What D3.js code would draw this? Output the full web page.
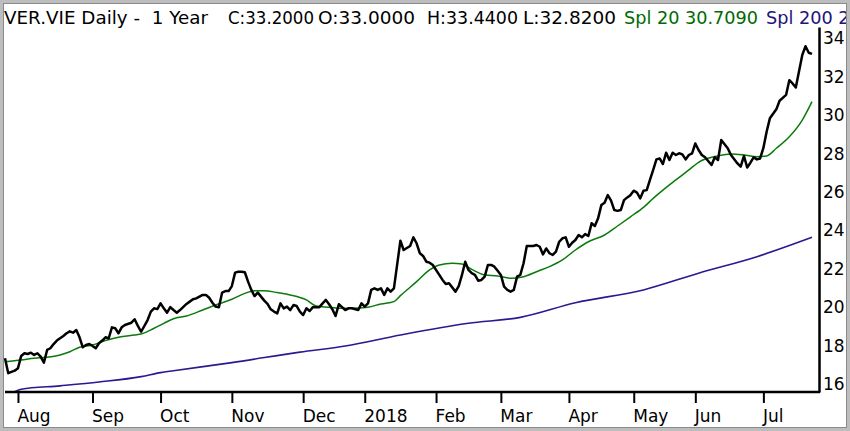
<!DOCTYPE html>
<html>
<head>
<meta charset="utf-8">
<script src="https://cdn.jsdelivr.net/npm/d3@7"></script>
<style>
  html, body { margin: 0; padding: 0; background: #fff; }
  svg { display: block; font-family: "DejaVu Sans", Verdana, sans-serif; }
</style>
</head>
<body>
<svg id="chart" width="850" height="431"></svg>
<script>
// trading day index (0 = first day shown) and close price
var closeDay = [0,1,3,4,5,6,7,8,9,10,11,12,13,14,15,16,17,18,19,20,21,22,23,24,25,26,27,28,29,30,
  31,32,33,34,35,36,37,39,40,41,42,44,45,46,47,48,49,50,51,52,53,54,56,57,58,59,61,62,63,64,
  65,66,67,68,69,70,71,72,73,74,75,76,77,78,79,80,81,82,83,84,85,86,87,88,89,90,91,92,93,94,
  95,97,98,99,100,101,102,103,104,105,106,107,109,110,111,112,113,114,115,116,117,118,119,120,
  122,123,125,126,127,128,129,130,131,132,134,135,136,137,139,140,141,142,143,144,145,146,147,148,
  149,150,151,152,153,154,155,156,157,158,159,160,161,163,164,165,166,167,168,169,170,171,172,173,
  174,175,176,177,178,179,180,181,182,183,184,185,186,187,188,189,190,191,192,193,194,195,196,197,
  198,199,200,201,202,203,204,205,206,207,208,209,210,211,212,213,214,215,216,218,219,220,221,223,
  224,226,227,228,229,230,231,232,233,234,235,236,238,239,241,242,243,244,246,247,248,249];
var closeVal = [17.34,16.56,16.69,16.82,17.46,17.60,17.56,17.63,17.51,17.60,17.42,17.11,17.77,17.86,18.08,18.26,18.38,18.50,18.64,18.74,18.67,18.81,18.43,17.91,18.03,18.08,17.98,17.86,18.12,18.26,
  18.43,18.38,18.95,18.90,18.64,18.95,19.07,19.19,19.37,19.02,18.72,19.33,19.77,19.94,19.90,20.20,19.94,19.71,20.00,19.85,19.71,19.85,20.17,20.29,20.41,20.46,20.64,20.64,20.49,20.23,
  20.03,20.00,20.76,20.84,20.84,21.10,21.80,21.85,21.85,21.82,21.33,20.90,20.58,20.76,20.55,20.34,20.17,19.89,19.77,19.68,20.20,19.94,20.03,19.85,20.11,20.06,19.77,19.59,19.94,19.80,
  20.00,20.00,20.20,20.38,20.15,19.89,19.54,20.15,20.00,19.85,19.94,19.94,19.85,20.20,20.03,20.20,20.90,20.98,20.90,20.98,20.64,20.98,20.81,20.98,
  23.46,22.98,23.19,23.64,23.33,22.81,22.67,22.37,22.32,22.20,21.68,21.42,21.21,21.25,20.81,21.10,21.68,22.37,21.94,21.77,21.68,21.38,21.42,21.59,
  22.20,22.20,22.11,21.90,21.68,21.07,20.90,20.81,20.90,21.59,21.68,22.29,23.19,23.19,23.24,23.15,22.75,23.06,22.81,22.72,22.89,23.41,23.59,23.64,
  23.15,23.36,23.50,23.76,23.64,23.81,23.71,24.37,24.23,24.63,25.32,25.44,25.84,25.55,25.06,25.02,25.06,25.58,25.72,25.84,26.07,25.97,25.67,26.07,
  26.10,26.63,27.15,27.70,27.75,27.46,28.05,27.67,28.05,27.93,28.02,27.96,27.70,27.93,28.02,28.53,28.19,27.93,27.81,27.41,27.81,27.67,28.71,28.28,
  27.93,27.49,27.32,27.88,27.28,27.53,27.81,27.70,27.75,28.30,29.14,29.84,30.31,30.76,31.06,31.83,31.66,31.45,33.14,33.60,33.26,33.20];

// Spl 20 (green)
var spl20Day = [0,5,9,13,17,20,23,27,31,35,40,42,46,49,52,56,61,65,70,74,77,80,84,88,93,96,100,104,107,112,
  116,120,122,127,131,134,138,141,144,148,152,156,160,164,168,172,176,180,185,189,193,197,200,203,207,211,214,220,224,228,
  232,235,238,242,246,249];
var spl20Val = [17.16,17.25,17.34,17.39,17.51,17.68,17.91,18.03,18.26,18.43,18.55,18.60,18.90,19.16,19.40,19.54,19.85,20.11,20.41,20.72,20.86,20.86,20.76,20.64,20.38,20.06,20.00,19.94,19.94,20.00,
  20.17,20.29,20.60,21.33,21.94,22.20,22.29,22.25,21.97,21.68,21.63,21.51,21.59,21.85,22.11,22.46,22.98,23.41,23.76,24.23,24.71,25.20,25.67,26.10,26.63,27.15,27.55,27.88,27.98,27.93,
  27.84,27.88,28.28,28.88,29.75,30.71];

// Spl 200 (blue)
var spl200Day = [3,5,17,29,42,48,52,70,91,105,122,143,159,176,197,214,232,249];
var spl200Val = [15.60,15.72,15.90,16.10,16.38,16.59,16.69,17.11,17.66,17.98,18.55,19.16,19.47,20.23,20.90,21.77,22.63,23.64];

var monthDay = [4,27,48,70,92,111,133,153,174,194,213,234];
var monthLabel = ["Aug","Sep","Oct","Nov","Dec","2018","Feb","Mar","Apr","May","Jun","Jul"];
var priceTicks = [16,18,20,22,24,26,28,30,32,34];

var headerText = ["VER.VIE Daily -  1 Year", "C:33.2000", "O:33.0000", "H:33.4400", "L:32.8200",
  "Spl 20 30.7090", "Spl 200 23.6460"];
var headerColor = ["#000","#000","#000","#000","#000","#006a00","#22137a"];

var nDays = 250;

var svg = d3.select("#chart");

// frame
svg.append("rect").attr("x", 0).attr("y", 0).attr("width", 850).attr("height", 431).attr("fill", "#bdbdbd");
svg.append("rect").attr("x", 3.5).attr("y", 3.5).attr("width", 843).attr("height", 424)
  .attr("fill", "#fff").attr("stroke", "#8a8a8a").attr("stroke-width", 1);

svg.append("clipPath").attr("id", "frameClip")
  .append("rect").attr("x", 4).attr("y", 4).attr("width", 842).attr("height", 423);

var x = d3.scaleLinear().domain([0, nDays - 1]).range([5, 812]);
var y = d3.scaleLinear().domain([15.58, 34.6]).range([392, 27]);

// header, each piece squeezed to the width it takes in the original
var headerX = [4, 228, 318, 427, 523, 624, 766];
var headerW = [204, 86, 97, 91, 93, 134, 0];
var header = svg.append("g").attr("clip-path", "url(#frameClip)");
header.selectAll("text")
  .data(headerText)
  .enter().append("text")
    .attr("x", function(d, i) { return headerX[i]; })
    .attr("y", 23.5)
    .attr("font-size", "17.7px")
    .style("white-space", "pre")
    .attr("fill", function(d, i) { return headerColor[i]; })
    .each(function(d, i) {
      if (headerW[i]) {
        d3.select(this).attr("textLength", headerW[i]).attr("lengthAdjust", "spacingAndGlyphs");
      }
    })
    .text(function(d) { return d; });

// lines
function series(days, vals) {
  return days.map(function(d, i) { return {d: d, v: vals[i]}; });
}

var lineLin = d3.line()
  .x(function(p) { return x(p.d); })
  .y(function(p) { return y(p.v); });
var lineSmooth = d3.line()
  .curve(d3.curveMonotoneX)
  .x(function(p) { return x(p.d); })
  .y(function(p) { return y(p.v); });

svg.append("path")
  .datum(series(spl200Day, spl200Val))
  .attr("d", lineSmooth)
  .attr("fill", "none")
  .attr("stroke", "#2c1890")
  .attr("stroke-width", 1.6);

svg.append("path")
  .datum(series(spl20Day, spl20Val))
  .attr("d", lineSmooth)
  .attr("fill", "none")
  .attr("stroke", "#0b7a0b")
  .attr("stroke-width", 1.5);

svg.append("path")
  .datum(series(closeDay, closeVal))
  .attr("d", lineLin)
  .attr("fill", "none")
  .attr("stroke", "#000")
  .attr("stroke-width", 2.5)
  .attr("stroke-linejoin", "round");

// right price axis
var yAxis = d3.axisRight(y)
  .tickValues(priceTicks)
  .tickSize(0)
  .tickSizeOuter(0)
  .tickPadding(4)
  .tickFormat(d3.format("d"));

var gy = svg.append("g").attr("transform", "translate(819,0)").call(yAxis);
gy.select(".domain").attr("stroke", "#000").attr("stroke-width", 2.5);
gy.selectAll("text").attr("font-size", "17px").attr("font-family", "DejaVu Sans, Verdana, sans-serif").attr("fill", "#000");

// bottom date axis
var xAxis = d3.axisBottom(x)
  .tickValues(monthDay)
  .tickSize(11)
  .tickSizeOuter(0)
  .tickFormat(function(d, i) { return monthLabel[i]; });

var gx = svg.append("g").attr("transform", "translate(0,392)").call(xAxis);
gx.select(".domain").remove();
gx.selectAll(".tick line").attr("stroke", "#000").attr("stroke-width", 2);
gx.selectAll("text")
  .attr("text-anchor", "start")
  .attr("x", -1)
  .attr("y", 30)
  .attr("dy", 0)
  .attr("font-size", "17px")
  .attr("font-family", "DejaVu Sans, Verdana, sans-serif")
  .attr("fill", "#000");

svg.append("line")
  .attr("x1", 5).attr("x2", 820)
  .attr("y1", 392).attr("y2", 392)
  .attr("stroke", "#000").attr("stroke-width", 2.5);
</script>
</body>
</html>
